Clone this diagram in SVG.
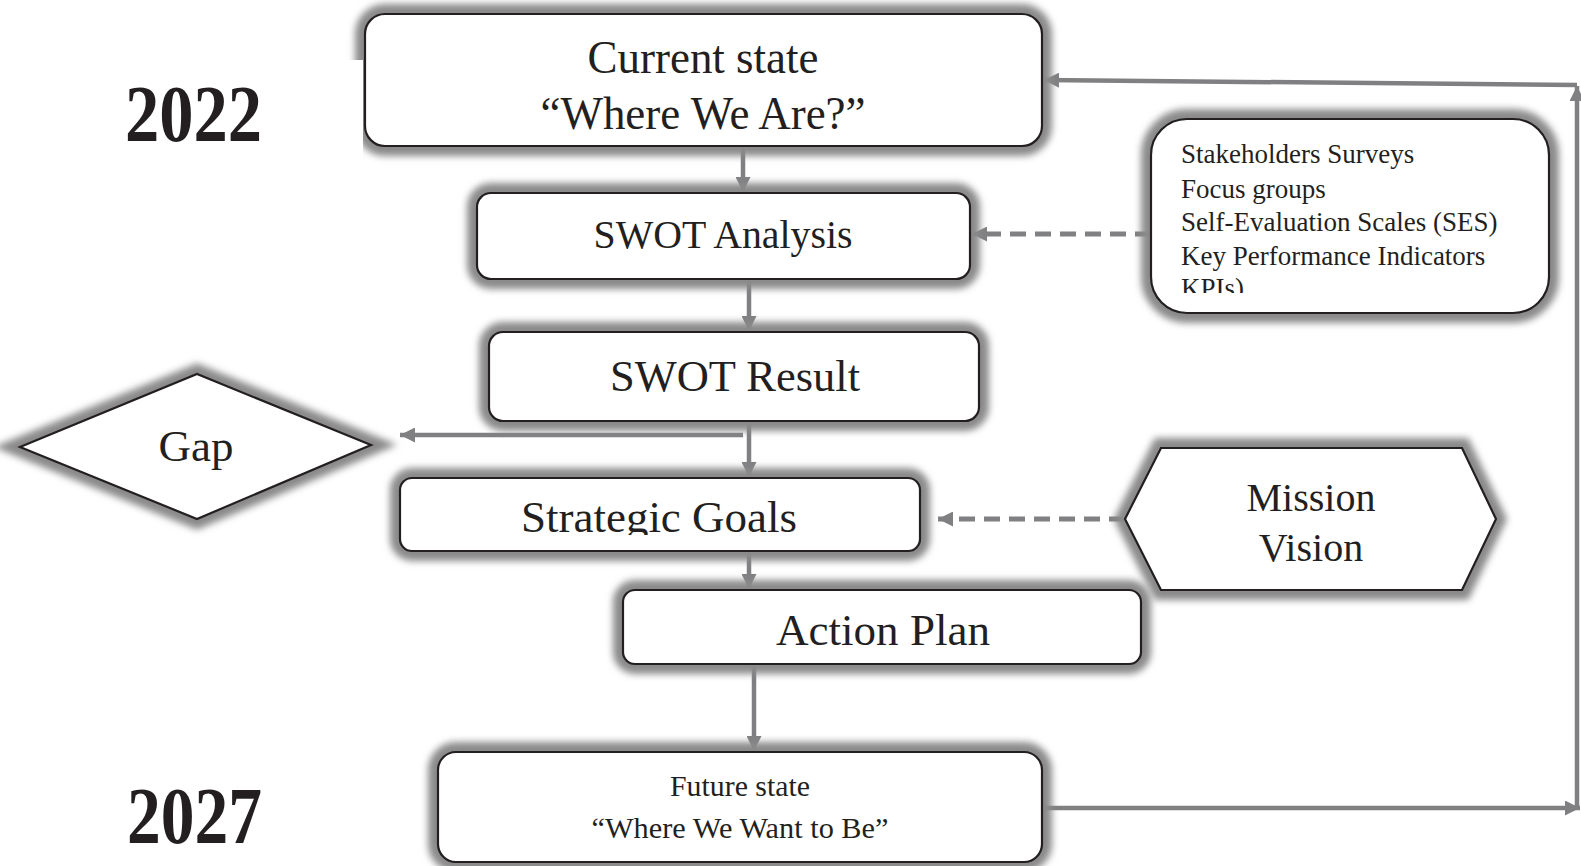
<svg xmlns="http://www.w3.org/2000/svg" width="1581" height="866" viewBox="0 0 1581 866">
<style>
.sh{fill:none;stroke:#8a8a8a;stroke-width:20;filter:url(#blur)}
.bx{fill:#fff;stroke:#231f20;stroke-width:2.2}
.t{font-family:"Liberation Serif","Times New Roman",serif;fill:#231f20;text-anchor:middle}
.tl{font-family:"Liberation Serif","Times New Roman",serif;fill:#231f20;font-size:27px}
.yr{font-family:"Liberation Serif","Times New Roman",serif;font-weight:bold;fill:#231f20;font-size:80px}
.c{fill:none;stroke:#808083;stroke-width:4.5}
.d{fill:none;stroke:#808083;stroke-width:5;stroke-dasharray:16 9}
</style>
<defs>
<filter id="blur" x="-10%" y="-25%" width="120%" height="150%"><feGaussianBlur stdDeviation="3.5"/></filter>
<marker id="ah" markerUnits="userSpaceOnUse" markerWidth="15" markerHeight="15" viewBox="0 0 15 15" refX="15" refY="7.5" orient="auto"><path d="M0,0 L15,7.5 L0,15 Z" fill="#808083"/></marker>
<clipPath id="clipKPI"><rect x="1150" y="118" width="400" height="175"/></clipPath>
<clipPath id="clipSG"><rect x="400" y="478" width="520" height="57"/></clipPath>
</defs>
<rect width="1581" height="866" fill="#fff"/>

<g id="connectors">
<path class="c" d="M743,146 V192" marker-end="url(#ah)"/>
<path class="c" d="M749,279 V331" marker-end="url(#ah)"/>
<path class="c" d="M749,421 V477" marker-end="url(#ah)"/>
<path class="c" d="M743,435 H400" marker-end="url(#ah)"/>
<path class="c" d="M749,551 V589" marker-end="url(#ah)"/>
<path class="c" d="M754,664 V751" marker-end="url(#ah)"/>
<path class="c" d="M1042,808 H1580" marker-end="url(#ah)"/>
<path class="c" d="M1577,808 V86" marker-end="url(#ah)"/>
<path class="c" d="M1577,85 L1044,80" marker-end="url(#ah)"/>
<path class="d" d="M1151,234 H972" marker-end="url(#ah)"/>
<path class="d" d="M1125,519 H938" marker-end="url(#ah)"/>
</g>

<g id="year2022"><text class="yr" x="125" y="141" textLength="137" lengthAdjust="spacingAndGlyphs">2022</text></g>
<g id="year2027"><text class="yr" x="127" y="843" textLength="135" lengthAdjust="spacingAndGlyphs">2027</text></g>

<g id="current-state">
<rect class="sh" x="365" y="14" width="677" height="132" rx="20"/>
<rect x="346" y="60" width="17" height="100" fill="#fff"/>
<rect class="bx" x="365" y="14" width="677" height="132" rx="20"/>
<text class="t" x="703" y="73" font-size="46" textLength="231" lengthAdjust="spacingAndGlyphs">Current state</text>
<text class="t" x="703" y="129" font-size="46" textLength="325" lengthAdjust="spacingAndGlyphs">“Where We Are?”</text>
</g>

<g id="swot-analysis">
<rect class="sh" x="477" y="193" width="493" height="86" rx="14"/>
<rect class="bx" x="477" y="193" width="493" height="86" rx="14"/>
<text class="t" x="723" y="248" font-size="40" textLength="259" lengthAdjust="spacingAndGlyphs">SWOT Analysis</text>
</g>

<g id="data-sources">
<rect class="sh" x="1151" y="119" width="398" height="194" rx="36"/>
<rect class="bx" x="1151" y="119" width="398" height="194" rx="36"/>
<text class="tl" x="1181" y="163">Stakeholders Surveys</text>
<text class="tl" x="1181" y="198">Focus groups</text>
<text class="tl" x="1181" y="231">Self-Evaluation Scales (SES)</text>
<text class="tl" x="1181" y="265">Key Performance Indicators</text>
<text class="tl" x="1181" y="297" clip-path="url(#clipKPI)">KPIs)</text>
</g>

<g id="swot-result">
<rect class="sh" x="489" y="332" width="490" height="89" rx="14"/>
<rect class="bx" x="489" y="332" width="490" height="89" rx="14"/>
<text class="t" x="735" y="391" font-size="44" textLength="250" lengthAdjust="spacingAndGlyphs">SWOT Result</text>
</g>

<g id="gap">
<polygon class="sh" points="20,447 197,374 371,445 197,519"/>
<polygon class="bx" points="20,447 197,374 371,445 197,519"/>
<text class="t" x="196" y="461" font-size="45">Gap</text>
</g>

<g id="strategic-goals">
<rect class="sh" x="400" y="478" width="520" height="73" rx="12"/>
<rect class="bx" x="400" y="478" width="520" height="73" rx="12"/>
<text class="t" x="659" y="532" font-size="44" textLength="276" lengthAdjust="spacingAndGlyphs" clip-path="url(#clipSG)">Strategic Goals</text>
</g>

<g id="mission-vision">
<polygon class="sh" points="1125,519 1161,448 1462,448 1496,519 1462,590 1161,590"/>
<polygon class="bx" points="1125,519 1161,448 1462,448 1496,519 1462,590 1161,590"/>
<text class="t" x="1311" y="511" font-size="40">Mission</text>
<text class="t" x="1311" y="561" font-size="40">Vision</text>
</g>

<g id="action-plan">
<rect class="sh" x="623" y="590" width="518" height="74" rx="12"/>
<rect class="bx" x="623" y="590" width="518" height="74" rx="12"/>
<text class="t" x="883" y="645" font-size="45" textLength="214" lengthAdjust="spacingAndGlyphs">Action Plan</text>
</g>

<g id="future-state">
<rect class="sh" x="438" y="752" width="604" height="110" rx="18"/>
<rect class="bx" x="438" y="752" width="604" height="110" rx="18"/>
<text class="t" x="740" y="796" font-size="29" textLength="140" lengthAdjust="spacingAndGlyphs">Future state</text>
<text class="t" x="740" y="838" font-size="29" textLength="297" lengthAdjust="spacingAndGlyphs">“Where We Want to Be”</text>
</g>
</svg>
